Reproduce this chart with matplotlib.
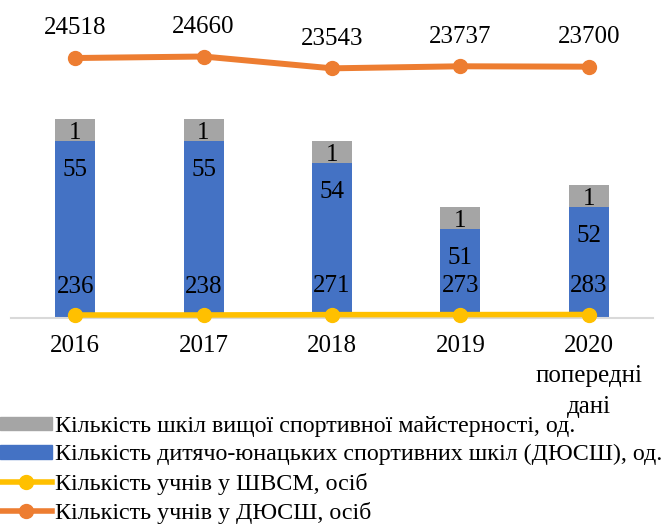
import matplotlib.pyplot as plt
import numpy as np
from matplotlib.lines import Line2D
from matplotlib.patches import Patch

years = ["2016", "2017", "2018", "2019", "2020\nпопередні\nдані"]
dyussh_schools = [55, 55, 54, 51, 52]
shvsm_schools = [1, 1, 1, 1, 1]
shvsm_pupils = [236, 238, 271, 273, 283]
dyussh_pupils = [24518, 24660, 23543, 23737, 23700]

labels = [
    "Кількість шкіл вищої спортивної майстерності, од.",
    "Кількість дитячо-юнацьких спортивних шкіл (ДЮСШ), од.",
    "Кількість учнів у ШВСМ, осіб",
    "Кількість учнів у ДЮСШ, осіб",
]

GREY = "#A5A5A5"
BLUE = "#4472C4"
YELLOW = "#FFC000"
ORANGE = "#ED7D31"

plt.rcParams["font.family"] = ["Liberation Serif", "DejaVu Serif"]
FS = 18

W, H = 667, 526
fig = plt.figure(figsize=(W / 100, H / 100), dpi=100)
base = 317.5
ax = fig.add_axes([11 / W, (H - base) / H, 642 / W, base / H])
x = np.arange(len(years))

# bars (schools)
ax.bar(x, dyussh_schools, width=0.31, color=BLUE, zorder=2)
ax.bar(x, shvsm_schools, width=0.31, bottom=dyussh_schools, color=GREY, zorder=2)
ax.set_ylim(47, 47 + base / 22.05)
ax.set_xlim(-0.5, len(years) - 0.5)
for xi, b, g in zip(x, dyussh_schools, shvsm_schools):
    ax.annotate(str(b), (xi, b), xytext=(0, -25), textcoords="offset points",
                ha="center", va="baseline", fontsize=FS)
    ax.annotate(str(g), (xi, b), xytext=(0, 1.5), textcoords="offset points",
                ha="center", va="baseline", fontsize=FS)

for s in ["top", "right", "left"]:
    ax.spines[s].set_visible(False)
ax.spines["bottom"].set_color("#D9D9D9")
ax.spines["bottom"].set_linewidth(1.5)
ax.set_yticks([])
ax.set_xticks(x)
ax.set_xticklabels(years, fontsize=FS, linespacing=1.5)
ax.tick_params(axis="x", length=0, pad=12.5)

# lines (pupils)
ax2 = ax.twinx()
ax2.set_ylim(0, 30000)
ax2.plot(x, shvsm_pupils, color=YELLOW, lw=4, marker="o", ms=10, zorder=3, clip_on=False)
ax2.plot(x, dyussh_pupils, color=ORANGE, lw=4.3, marker="o", ms=10, zorder=3, clip_on=False)
for xi, v in zip(x, shvsm_pupils):
    ax2.annotate(str(v), (xi, v), xytext=(0, 16), textcoords="offset points",
                 ha="center", va="baseline", fontsize=FS)
for xi, v in zip(x, dyussh_pupils):
    ax2.annotate(str(v), (xi, v), xytext=(0, 17), textcoords="offset points",
                 ha="center", va="baseline", fontsize=FS)
ax2.axis("off")

handles = [
    Patch(color=GREY),
    Patch(color=BLUE),
    Line2D([], [], color=YELLOW, lw=4, marker="o", ms=10),
    Line2D([], [], color=ORANGE, lw=4, marker="o", ms=10),
]
fig.legend(handles, labels, loc="upper left", bbox_to_anchor=(0, 1 - 416 / H),
           frameon=False, fontsize=17.3, handlelength=2.15, handletextpad=0.15,
           labelspacing=0.3, borderpad=0, borderaxespad=0, handleheight=0.5)

fig.savefig("out.png", dpi=100)
